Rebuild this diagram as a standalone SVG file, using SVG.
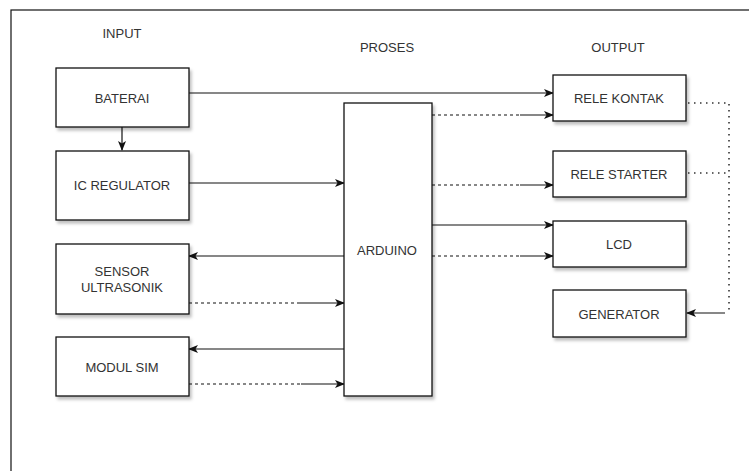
<svg xmlns="http://www.w3.org/2000/svg" width="749" height="471" viewBox="0 0 749 471">
<defs>
<style>
.box{fill:#fff;stroke:#111;stroke-width:1.3;filter:url(#sh)}
.t{font-family:"Liberation Sans",Arial,sans-serif;font-size:13px;fill:#333;text-anchor:middle;dominant-baseline:central}
.c{fill:none;stroke:#111;stroke-width:1.2}
.a{marker-end:url(#arr)}
.d{stroke-dasharray:3 3}
.dot{fill:none;stroke:#333;stroke-width:1.6;stroke-dasharray:1.5 4.5}
</style>
<filter id="sh" x="-10%" y="-10%" width="130%" height="130%">
<feDropShadow dx="2" dy="3" stdDeviation="1.5" flood-color="#000" flood-opacity="0.25"/>
</filter>
<marker id="arr" viewBox="0 0 10 8" markerWidth="10" markerHeight="8" refX="9" refY="4" orient="auto" markerUnits="userSpaceOnUse">
<path d="M0,0 L10,4 L0,8 L2.5,4 z" fill="#111"/>
</marker>
</defs>
<rect width="749" height="471" fill="#fff"/>
<rect x="11" y="10" width="760" height="480" fill="none" stroke="#111" stroke-width="1.2"/>
<text class="t" x="122" y="33">INPUT</text>
<text class="t" x="387" y="47">PROSES</text>
<text class="t" x="618" y="47">OUTPUT</text>
<g id="connectors">
<path class="c a" d="M122,127 V150"/>
<path class="c a" d="M189,93 H553"/>
<path class="c a" d="M189,183 H344"/>
<path class="c a" d="M344,256 H189"/>
<path class="c d" d="M189,303 H298"/>
<path class="c a" d="M298,303 H344"/>
<path class="c a" d="M344,349 H189"/>
<path class="c d" d="M189,384 H301"/>
<path class="c a" d="M301,384 H344"/>
<path class="c d" d="M432,115 H520"/>
<path class="c a" d="M520,115 H553"/>
<path class="c d" d="M432,185 H520"/>
<path class="c a" d="M520,185 H553"/>
<path class="c a" d="M432,225 H553"/>
<path class="c d" d="M432,256 H520"/>
<path class="c a" d="M520,256 H553"/>
<path class="dot" d="M688,103 H729 V313"/>
<path class="dot" d="M688,173 H729"/>
<path class="c a" d="M725,313 H687"/>
</g>
<g id="baterai"><rect class="box" x="56" y="68" width="133" height="59"/><text class="t" x="122" y="98">BATERAI</text></g>
<g id="ic-regulator"><rect class="box" x="56" y="151" width="133" height="69"/><text class="t" x="122" y="185">IC REGULATOR</text></g>
<g id="sensor"><rect class="box" x="56" y="244" width="133" height="70"/><text class="t" x="122" y="271">SENSOR</text><text class="t" x="122" y="287">ULTRASONIK</text></g>
<g id="modul-sim"><rect class="box" x="56" y="337" width="133" height="59"/><text class="t" x="122" y="367">MODUL SIM</text></g>
<g id="arduino"><rect class="box" x="344" y="103" width="88" height="293"/><text class="t" x="387" y="250">ARDUINO</text></g>
<g id="rele-kontak"><rect class="box" x="553" y="75" width="133" height="46"/><text class="t" x="619" y="98">RELE KONTAK</text></g>
<g id="rele-starter"><rect class="box" x="553" y="151" width="133" height="46"/><text class="t" x="619" y="174">RELE STARTER</text></g>
<g id="lcd"><rect class="box" x="553" y="221" width="133" height="46"/><text class="t" x="619" y="244">LCD</text></g>
<g id="generator"><rect class="box" x="553" y="290" width="133" height="47"/><text class="t" x="619" y="314">GENERATOR</text></g>
</svg>
